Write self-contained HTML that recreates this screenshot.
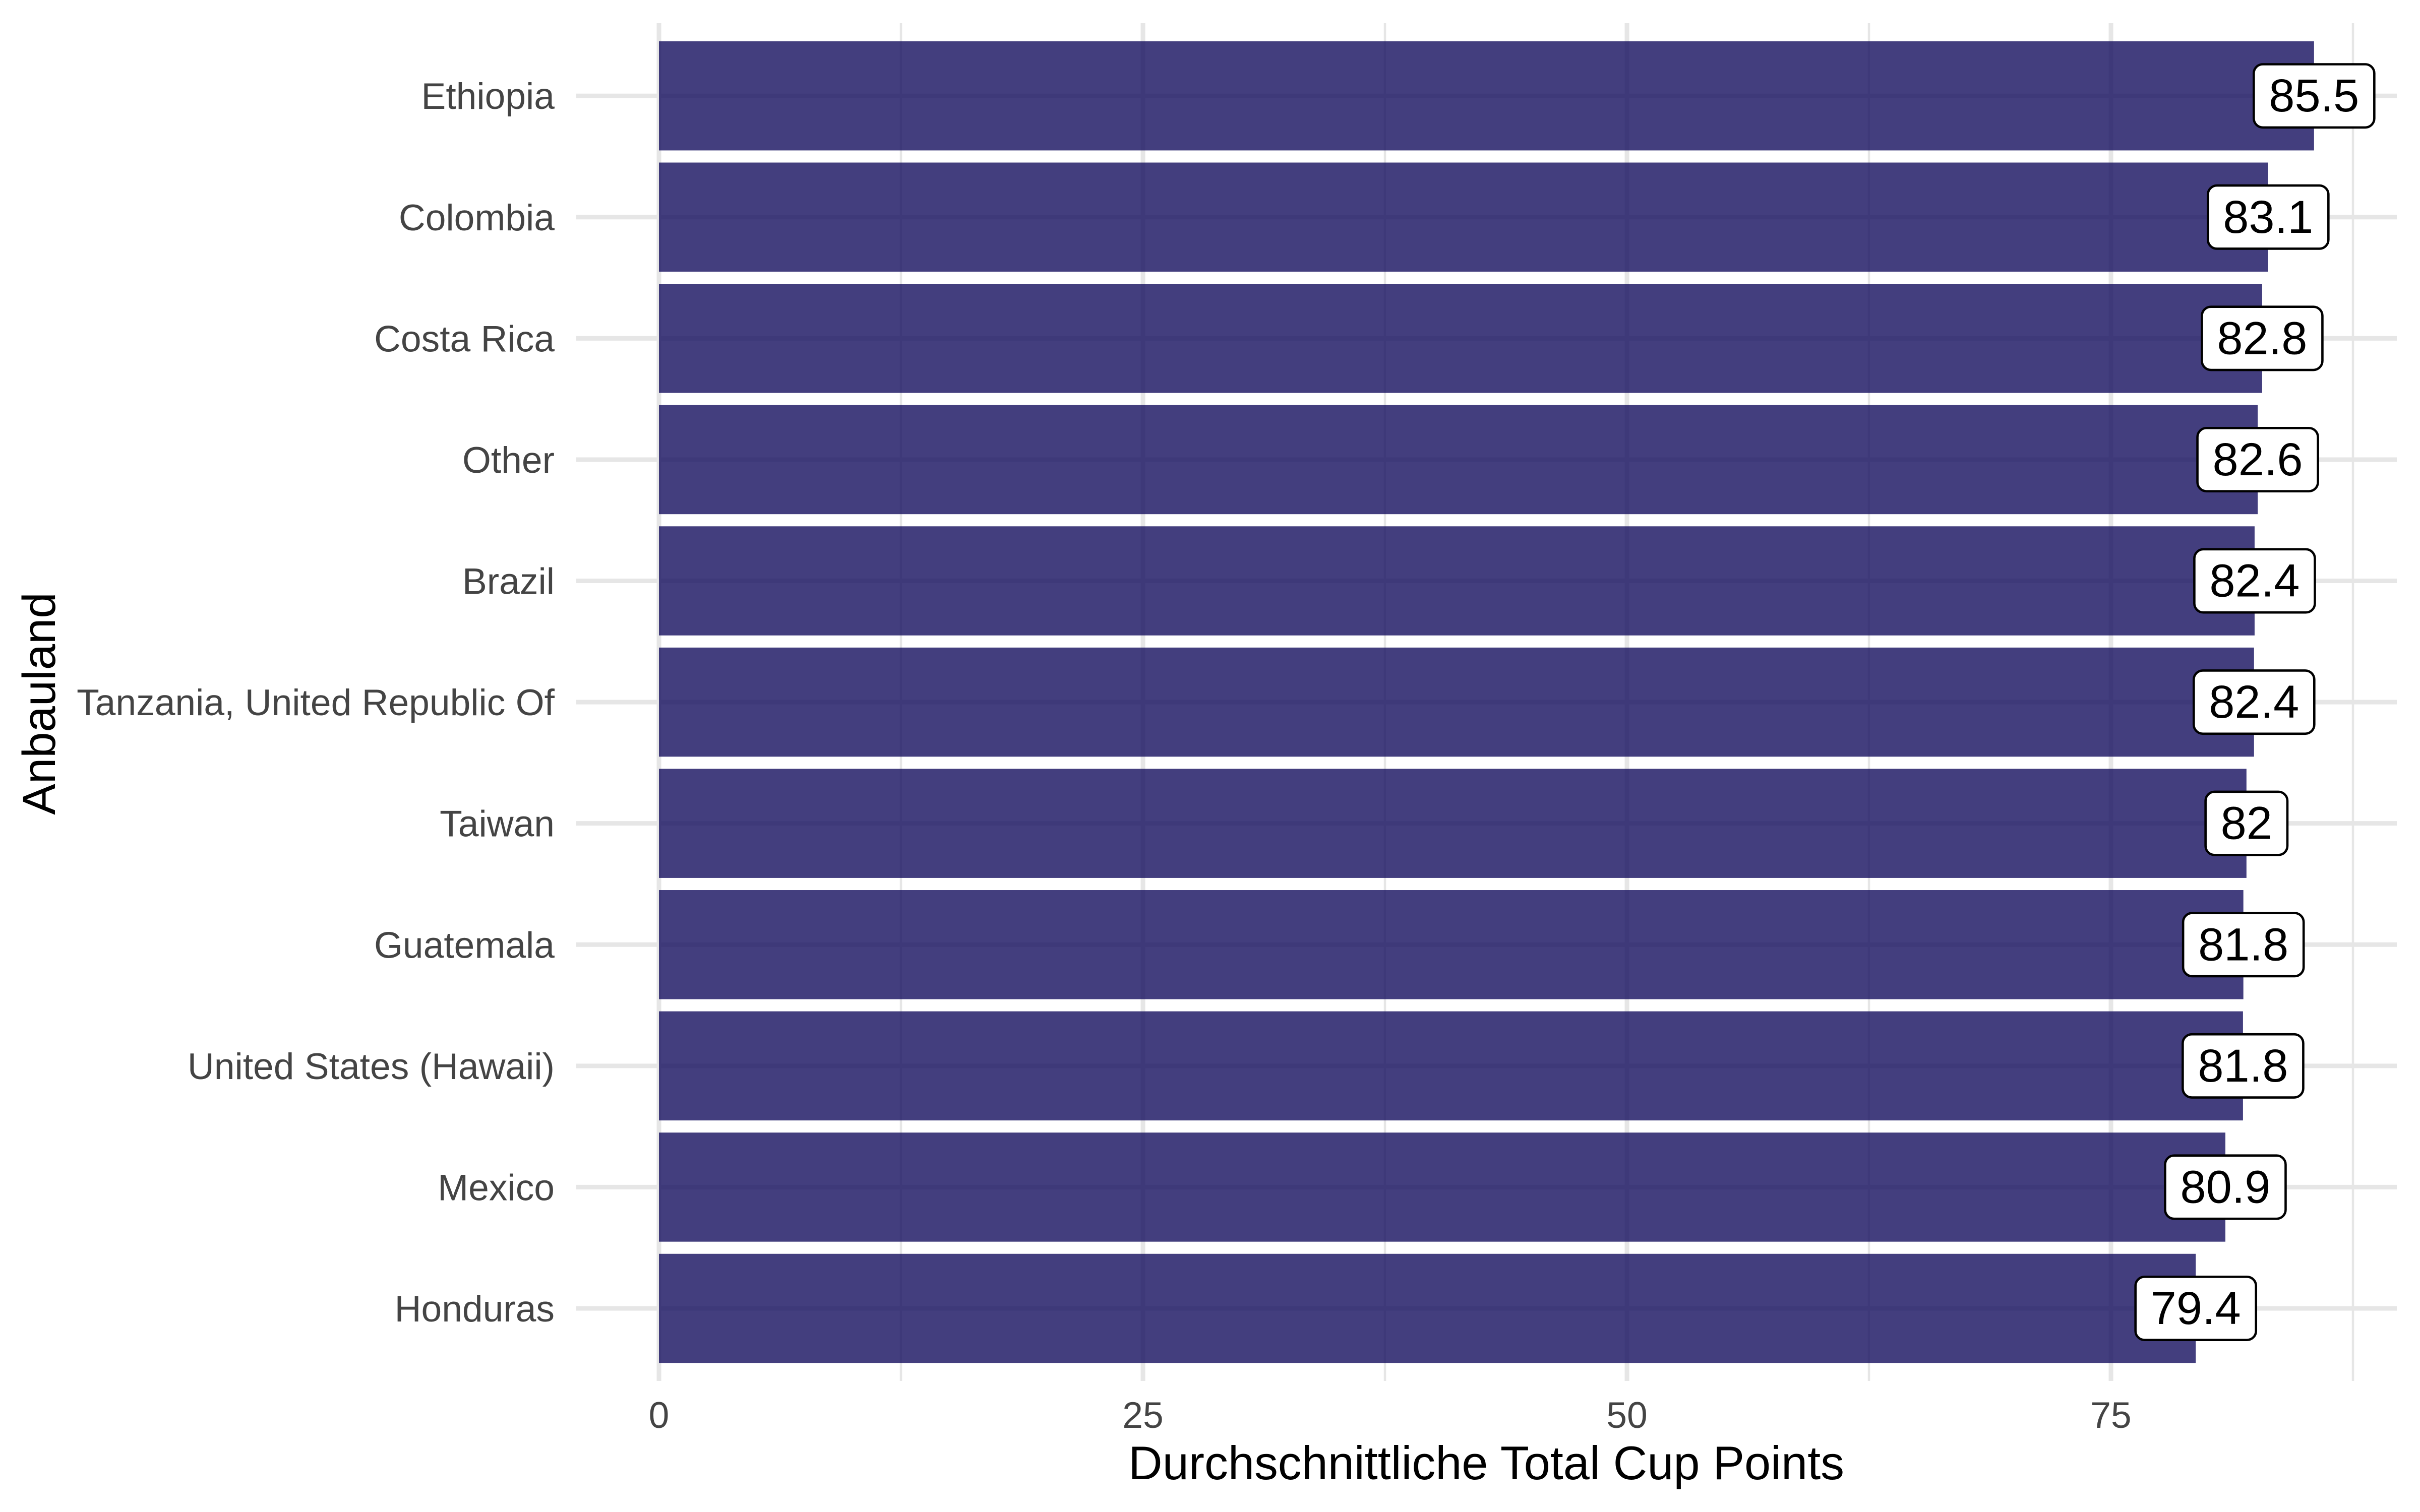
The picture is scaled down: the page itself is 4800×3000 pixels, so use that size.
<!DOCTYPE html>
<html lang="de">
<head>
<meta charset="utf-8">
<title>Durchschnittliche Total Cup Points nach Anbauland</title>
<style>
html, body { margin: 0; padding: 0; background: #ffffff; }
svg { display: block; }
text { font-family: "Liberation Sans", Arial, sans-serif; }
</style>
</head>
<body>
<svg id="chart" xmlns="http://www.w3.org/2000/svg" width="4800" height="3000" viewBox="0 0 4800 3000">
  <rect x="0" y="0" width="4800" height="3000" fill="#ffffff"></rect>
  <g id="grid"></g>
  <g id="bars"></g>
  <g id="labels"></g>
  <g id="y-axis"></g>
  <g id="x-axis"></g>
  <text x="2948" y="2935" font-size="93.7" fill="#000000" text-anchor="middle">Durchschnittliche Total Cup Points</text>
  <text transform="translate(109 1396) rotate(-90)" font-size="92.3" fill="#000000" text-anchor="middle">Anbauland</text>
</svg>
<script>
const categories = ['Ethiopia', 'Colombia', 'Costa Rica', 'Other', 'Brazil', 'Tanzania, United Republic Of', 'Taiwan', 'Guatemala', 'United States (Hawaii)', 'Mexico', 'Honduras'];
const cupPoints = [85.49, 83.12, 82.81, 82.58, 82.42, 82.39, 82.0, 81.84, 81.82, 80.91, 79.38];
const majorTicks = [0, 25, 50, 75];
const minorTicks = [12.5, 37.5, 62.5, 87.5];

const SVG_NS = 'http://www.w3.org/2000/svg';
const panel = { left: 1143, right: 4754, top: 46, bottom: 2740 };
const xOrigin = 1307;
const xPerUnit = 38.4;
const firstBandCenter = 190.2;
const bandStep = 240.58;
const barHeight = 216.5;
const labelHeight = 125.4;
const labelPadding = 60;

function xScale(value) {
  return xOrigin + value * xPerUnit;
}
function yScale(index) {
  return firstBandCenter + index * bandStep;
}
function slug(text) {
  return text.toLowerCase().replace(/[^a-z0-9]+/g, '-').replace(/^-|-$/g, '');
}
function make(parent, tag, attrs, content) {
  const node = document.createElementNS(SVG_NS, tag);
  Object.keys(attrs).forEach(function (key) { node.setAttribute(key, attrs[key]); });
  if (content !== undefined) node.textContent = content;
  document.getElementById(parent).appendChild(node);
  return node;
}

minorTicks.forEach(function (tick) {
  const line = make('grid', 'line', { x1: xScale(tick), x2: xScale(tick), y1: panel.top, y2: panel.bottom, stroke: '#E6E6E6', 'stroke-width': 4.5 });
  
  
});
majorTicks.forEach(function (tick) {
  const line = make('grid', 'line', { x1: xScale(tick), x2: xScale(tick), y1: panel.top, y2: panel.bottom, stroke: '#E6E6E6', 'stroke-width': 9 });
  
  

  const label = make('x-axis', 'text', { x: xScale(tick), y: 2833, 'font-size': 73.2, fill: '#444444', 'text-anchor': 'middle' }, String(tick));
  
  
});

categories.forEach(function (category, i) {
  const name = slug(category);
  const center = yScale(i);

  const gridline = make('grid', 'line', { x1: panel.left, x2: panel.right, y1: center, y2: center, stroke: '#E6E6E6', 'stroke-width': 9 });
  
  

  const tickLabel = make('y-axis', 'text', { x: 1100, y: center + 26, 'font-size': 73.2, fill: '#444444', 'text-anchor': 'end' }, category);
  
  

  const bar = make('bars', 'rect', { x: xScale(0), y: center - barHeight / 2, width: xScale(cupPoints[i]) - xScale(0), height: barHeight, fill: '#140E5E', 'fill-opacity': 0.8 });
  
  

  const box = make('labels', 'rect', { y: center - labelHeight / 2, height: labelHeight, rx: 18, ry: 18, fill: '#ffffff', stroke: '#000000', 'stroke-width': 4.6 });
  
  

  const printed = String(Number(cupPoints[i].toFixed(1)));
  const valueText = make('labels', 'text', { x: xScale(cupPoints[i]), y: center + 31, 'font-size': 92, fill: '#000000', 'text-anchor': 'middle' }, printed);
  
  

  const boxWidth = valueText.getComputedTextLength() + labelPadding;
  box.setAttribute('x', xScale(cupPoints[i]) - boxWidth / 2);
  box.setAttribute('width', boxWidth);
});
</script>
</body>
</html>
